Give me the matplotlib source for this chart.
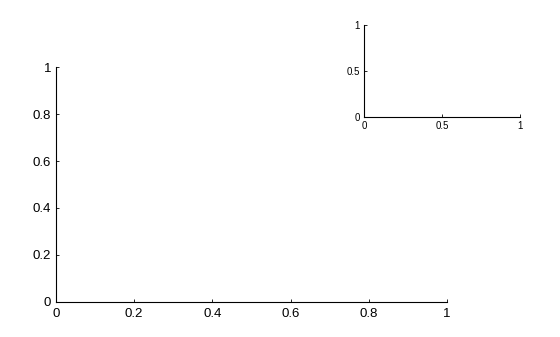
import matplotlib
matplotlib.use("Agg")
import matplotlib.pyplot as plt

plt.rcParams['font.family'] = ['Liberation Sans', 'DejaVu Sans']

main_xticks = [0, 0.2, 0.4, 0.6, 0.8, 1]
main_yticks = [0, 0.2, 0.4, 0.6, 0.8, 1]
main_labels = ['0', '0.2', '0.4', '0.6', '0.8', '1']
inset_ticks = [0, 0.5, 1]
inset_labels = ['0', '0.5', '1']

fig = plt.figure(figsize=(5.6, 3.37), dpi=100)

def style(ax, xt, yt, lab, fs, xpad, ypad):
    ax.set_xlim(0, 1)
    ax.set_ylim(0, 1)
    ax.set_xticks(xt)
    ax.set_yticks(yt)
    ax.set_xticklabels(lab, fontsize=fs)
    ax.set_yticklabels(lab, fontsize=fs)
    for s in ['top', 'right']:
        ax.spines[s].set_visible(False)
    for s in ['left', 'bottom']:
        ax.spines[s].set_linewidth(0.8)
    ax.tick_params(direction='in', length=2.5, width=0.6)
    ax.tick_params(axis='x', pad=xpad)
    ax.tick_params(axis='y', pad=ypad)

ax = fig.add_axes([0.1, 0.104, 0.698, 0.697])
style(ax, main_xticks, main_yticks, main_labels, 9.5, 4.5, 3.5)

ax2 = fig.add_axes([0.65, 0.653, 0.279, 0.273])
style(ax2, inset_ticks, inset_ticks, inset_labels, 7, 3, 3)

fig.savefig('out.png', dpi=100)
